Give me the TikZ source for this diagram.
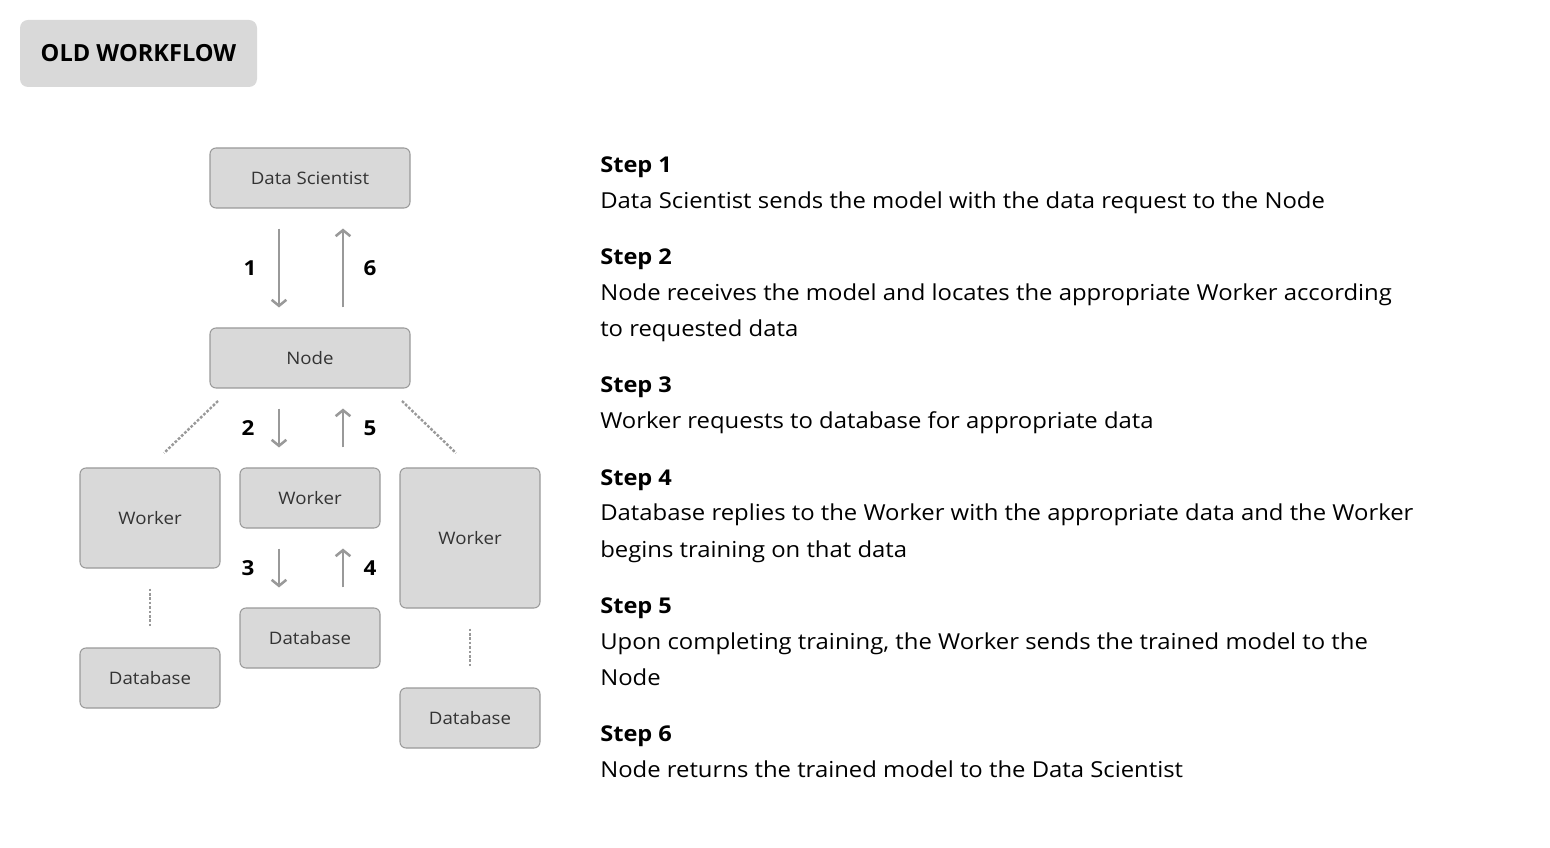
\documentclass[tikz,border=0pt]{standalone}
\usepackage{fontspec}
\setmainfont{Open Sans}
\newfontfamily\widefont[FakeStretch=1.085]{Open Sans}
\usetikzlibrary{arrows.meta}
\definecolor{boxfill}{HTML}{D9D9D9}
\definecolor{boxline}{HTML}{9A9A9A}
\definecolor{arrgray}{HTML}{999999}
\definecolor{boxtext}{HTML}{333333}
\tikzset{
  box/.style={rectangle, rounded corners=4.5pt, fill=boxfill, draw=boxline, line width=0.8pt,
     inner sep=0pt, text=boxtext, font=\widefont\fontsize{12.9}{15}\selectfont},
  arr/.style={draw=arrgray, line width=1.9pt, -{Straight Barb[length=4.5pt,width=11pt,line width=1.9pt]}, shorten <=15pt, shorten >=15pt},
  dots/.style={draw=arrgray, line width=1.8pt, dash pattern=on 2pt off 1.3pt},
  vdots/.style={dots, shorten <=15pt, shorten >=15pt},
  num/.style={font=\widefont\fontsize{15.5}{18}\selectfont\bfseries, text=black},
  head/.style={anchor=base west, inner sep=0pt, font=\widefont\fontsize{16.3}{19}\selectfont\bfseries},
  body/.style={anchor=base west, inner sep=0pt, font=\widefont\fontsize{16.5}{19}\selectfont},
}
\begin{document}
\begin{tikzpicture}[x=0.75pt,y=-0.75pt]
\useasboundingbox[fill=white] (0,0) rectangle (1550,848);
% title
\node[rectangle, rounded corners=6pt, fill=boxfill, minimum width=177.75pt, minimum height=50.25pt, inner sep=0pt,
      font=\fontsize{17.7}{20}\selectfont\bfseries] (title) at (138.5,53.5) {OLD WORKFLOW};
% boxes
\node[box, minimum width=150pt, minimum height=45pt] (ds) at (310,178) {Data Scientist};
\node[box, minimum width=150pt, minimum height=45pt] (nd) at (310,358) {Node};
\node[box, minimum width=105pt, minimum height=75pt] (wl) at (150,518) {Worker};
\node[box, minimum width=105pt, minimum height=45pt] (wm) at (310,498) {Worker};
\node[box, minimum width=105pt, minimum height=105pt] (wr) at (470,538) {Worker};
\node[box, minimum width=105pt, minimum height=45pt] (dbl) at (150,678) {Database};
\node[box, minimum width=105pt, minimum height=45pt] (dbm) at (310,638) {Database};
\node[box, minimum width=105pt, minimum height=45pt] (dbr) at (470,718) {Database};
% arrows
\draw[arr] ([xshift=-23.25pt]ds.south) -- node[num, midway, xshift=-21.75pt] (n1) {1} ([xshift=-23.25pt]nd.north);
\draw[arr] ([xshift=24.75pt]nd.north) -- node[num, midway, xshift=20.25pt] (n6) {6} ([xshift=24.75pt]ds.south);
\draw[arr] ([xshift=-23.25pt]nd.south) -- node[num, midway, xshift=-23.25pt] (n2) {2} ([xshift=-23.25pt]wm.north);
\draw[arr] ([xshift=24.75pt]wm.north) -- node[num, midway, xshift=20.25pt] (n5) {5} ([xshift=24.75pt]nd.south);
\draw[arr] ([xshift=-23.25pt]wm.south) -- node[num, midway, xshift=-23.25pt] (n3) {3} ([xshift=-23.25pt]dbm.north);
\draw[arr] ([xshift=24.75pt]dbm.north) -- node[num, midway, xshift=20.25pt] (n4) {4} ([xshift=24.75pt]wm.south);
% dotted links
\coordinate (la) at (218,401); \coordinate (lb) at (164,453);
\coordinate (ra) at (402,401); \coordinate (rb) at (456,453);
\draw[dots] (la) -- (lb);
\draw[dots] (ra) -- (rb);
\draw[vdots] (wl.south) -- (dbl.north);
\draw[vdots] (wr.south) -- (dbr.north);
% steps
\node[head] (s1h) at (600,173) {Step 1};
\node[body] (s1a) at (600,209) {Data Scientist sends the model with the data request to the Node};
\node[head] (s2h) at (600,265) {Step 2};
\node[body] (s2a) at (600,301) {Node receives the model and locates the appropriate Worker according};
\node[body] (s2b) at (600,337) {to requested data};
\node[head] (s3h) at (600,393) {Step 3};
\node[body] (s3a) at (600,429) {Worker requests to database for appropriate data};
\node[head] (s4h) at (600,485) {Step 4};
\node[body] (s4a) at (600,521) {Database replies to the Worker with the appropriate data and the Worker};
\node[body] (s4b) at (600,557) {begins training on that data};
\node[head] (s5h) at (600,613) {Step 5};
\node[body] (s5a) at (600,649) {Upon completing training, the Worker sends the trained model to the};
\node[body] (s5b) at (600,685) {Node};
\node[head] (s6h) at (600,741) {Step 6};
\node[body] (s6a) at (600,777) {Node returns the trained model to the Data Scientist};
\end{tikzpicture}
\end{document}
